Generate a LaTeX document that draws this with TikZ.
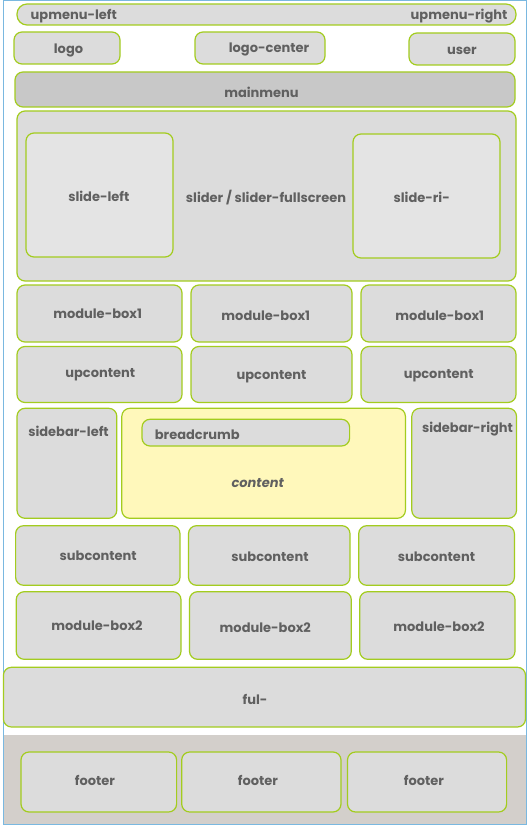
\documentclass[tikz,border=0pt]{standalone}
\usepackage{fontspec}
\setmainfont{Poppins}
\usetikzlibrary{fit}
\definecolor{edge}{HTML}{A3CC1F}
\definecolor{boxgray}{HTML}{DCDCDC}
\definecolor{menugray}{HTML}{C8C8C8}
\definecolor{slidegray}{HTML}{E4E4E4}
\definecolor{contyellow}{HTML}{FFF8BB}
\definecolor{footband}{HTML}{D3CFCB}
\definecolor{frameblue}{HTML}{7AB8E0}
\definecolor{txt}{HTML}{606060}
\begin{document}
\begin{tikzpicture}[x=1pt,y=-1pt,
  box/.style={draw=edge, line width=1.2pt, fill=boxgray, rounded corners=8pt, inner sep=0pt, outer sep=0pt},
  lbl/.style={text=txt, font=\fontsize{13}{15}\selectfont\bfseries, inner sep=0pt, yshift=-1.8pt}]
\useasboundingbox (0,0) rectangle (529,826);
% outer frame and footer band
\node[draw=frameblue, line width=1pt, fill=white, inner sep=0pt, fit={(3,1) (526,824)}] (frame) {};
\node[fill=footband, inner sep=0pt, fit={(3.5,735) (525.5,823.5)}] (band) {};
% top
\node[box, rounded corners=10pt, fit={(17,4) (516,25)}] (upmenu) {};
\node[lbl, anchor=west] (tupl) at (30.5,14.3) {upmenu-left};
\node[lbl, anchor=east] (tupr) at (507.6,14.3) {upmenu-right};
\node[box, fit={(14,32) (120,64)}] (logo) {};
\node[lbl] (tlogo) at (68.5,48.3) {logo};
\node[box, fit={(195,32) (325,64)}] (logoc) {};
\node[lbl] (tlogoc) at (269,48) {logo-center};
\node[box, fit={(409,33) (515,65)}] (user) {};
\node[lbl] (tuser) at (462,49.3) {user};
\node[box, fill=menugray, fit={(15,72) (515,107)}] (mainmenu) {};
\node[lbl] (tmain) at (261.5,91) {mainmenu};
% slider
\node[box, fit={(17,111) (516,281)}] (slider) {};
\node[lbl] (tslider) at (266,195.7) {slider / slider-fullscreen};
\node[box, fill=slidegray, fit={(26,133) (173,257)}] (slidel) {};
\node[lbl] (tslidel) at (98.8,195) {slide-left};
\node[box, fill=slidegray, fit={(353,134) (500,258)}] (slider2) {};
\node[lbl] (tslider2) at (421.7,196) {slide-ri-};
% module-box1
\node[box, fit={(17,285) (182,342)}] (mba) {};
\node[lbl] (tmba) at (97.6,312.3) {module-box1};
\node[box, fit={(191,285) (352,342)}] (mbb) {};
\node[lbl] (tmbb) at (265.8,314.3) {module-box1};
\node[box, fit={(361,285) (516,342)}] (mbc) {};
\node[lbl] (tmbc) at (439.8,314.3) {module-box1};
% upcontent
\node[box, fit={(17,346.5) (182,402.5)}] (upa) {};
\node[lbl] (tupa) at (100.3,372.7) {upcontent};
\node[box, fit={(191,346.5) (352,402.5)}] (upb) {};
\node[lbl] (tupb) at (271.5,374.7) {upcontent};
\node[box, fit={(361,346.5) (516,402.5)}] (upc) {};
\node[lbl] (tupc) at (438.7,374) {upcontent};
% content row
\node[box, fit={(17,408.3) (116.8,518.3)}] (sbl) {};
\node[lbl] (tsbl) at (68.5,429.3) {sidebar-left};
\node[box, fill=contyellow, fit={(121.8,408.3) (405.4,518.3)}] (content) {};
\node[box, fit={(142,419.3) (349.6,446)}] (bread) {};
\node[lbl, anchor=west] (tbread) at (154.7,433.3) {breadcrumb};
\node[lbl, font=\fontsize{13}{15}\selectfont\bfseries\itshape] (tcontent) at (257.7,481.7) {content};
\node[box, fit={(411.8,408.3) (516.5,518.3)}] (sbr) {};
\node[lbl] (tsbr) at (467.5,427.3) {sidebar-right};
% subcontent
\node[box, fit={(15.6,525.7) (180,585.3)}] (suba) {};
\node[lbl] (tsuba) at (98.2,554.3) {subcontent};
\node[box, fit={(188.5,525.7) (350,585.3)}] (subb) {};
\node[lbl] (tsubb) at (270,555.3) {subcontent};
\node[box, fit={(358.7,525.7) (514.4,585.3)}] (subc) {};
\node[lbl] (tsubc) at (436.5,555.3) {subcontent};
% module-box2
\node[box, fit={(16.2,591.7) (181,659.3)}] (mca) {};
\node[lbl] (tmca) at (97,624) {module-box2};
\node[box, fit={(189.5,591.7) (351.3,659.3)}] (mcb) {};
\node[lbl] (tmcb) at (265.3,626) {module-box2};
\node[box, fit={(359.7,591.7) (515,659.3)}] (mcc) {};
\node[lbl] (tmcc) at (439,625) {module-box2};
% ful-
\node[box, fit={(3.4,667.3) (525.5,727)}] (ful) {};
\node[lbl] (tful) at (255,697.3) {ful-};
% footers
\node[box, fit={(21,752) (176.6,812)}] (fa) {};
\node[lbl] (tfa) at (95,779) {footer};
\node[box, fit={(181.7,752) (341,812)}] (fb) {};
\node[lbl] (tfb) at (258,779) {footer};
\node[box, fit={(347.5,752) (506.6,812)}] (fc) {};
\node[lbl] (tfc) at (424,779) {footer};
\end{tikzpicture}
\end{document}
